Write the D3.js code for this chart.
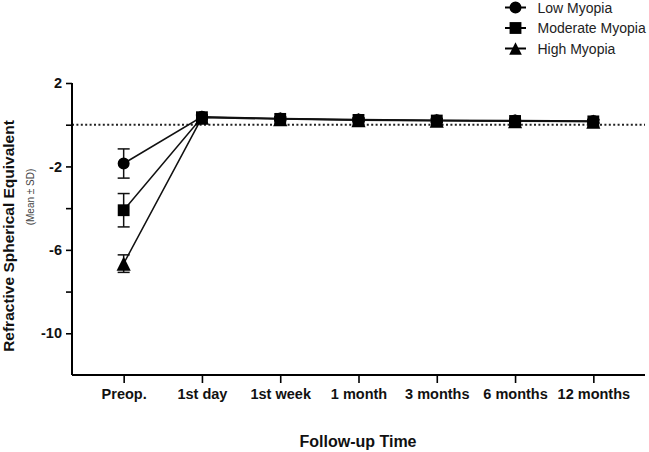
<!DOCTYPE html>
<html>
<head>
<meta charset="utf-8">
<script src="https://cdn.jsdelivr.net/npm/d3@7"></script>
<style>
  html, body { margin: 0; padding: 0; background: #fff; }
  svg { display: block; font-family: "Liberation Sans", Arial, Helvetica, sans-serif; }
</style>
</head>
<body>
<svg id="chart" width="649" height="452"></svg>
<script>
// ---- data ----
const categories = ["Preop.", "1st day", "1st week", "1 month", "3 months", "6 months", "12 months"];
const seriesNames = ["Low Myopia", "Moderate Myopia", "High Myopia"];
const lowMean      = [-1.86, 0.38, 0.30, 0.25, 0.22, 0.20, 0.18];
const lowSD        = [0.70, 0.10, 0.08, 0.08, 0.08, 0.08, 0.08];
const moderateMean = [-4.10, 0.36, 0.28, 0.23, 0.20, 0.18, 0.16];
const moderateSD   = [0.80, 0.10, 0.08, 0.08, 0.08, 0.08, 0.08];
const highMean     = [-6.66, 0.34, 0.27, 0.22, 0.19, 0.17, 0.15];
const highSD       = [0.42, 0.10, 0.08, 0.08, 0.08, 0.08, 0.08];
const yTickValues  = [2, 0, -2, -4, -6, -8, -10];
const yTickLabels  = [2, -2, -6, -10];

// triangle centred on its bounding box (as in the reference)
const boxTriangle = {
  draw(context, size) {
    const s = Math.sqrt(size);
    context.moveTo(0, -s / 2);
    context.lineTo(s / 2, s / 2);
    context.lineTo(-s / 2, s / 2);
    context.closePath();
  }
};

const series = [
  { name: seriesNames[0], mean: lowMean, sd: lowSD, symbol: d3.symbolCircle, size: 113 },
  { name: seriesNames[1], mean: moderateMean, sd: moderateSD, symbol: d3.symbolSquare, size: 140 },
  { name: seriesNames[2], mean: highMean, sd: highSD, symbol: boxTriangle, size: 200 }
];

const svg = d3.select("#chart");
const mLeft = 72, mRight = 645, mTop = 83, mBottom = 375;

const x = d3.scalePoint().domain(categories).range([mLeft, mRight]).padding(0.66);
const y = d3.scaleLinear().domain([-12, 2]).range([mBottom, mTop]);

// dotted zero line
svg.append("line")
  .attr("x1", mLeft).attr("x2", mRight)
  .attr("y1", y(0)).attr("y2", y(0))
  .attr("stroke", "#222").attr("stroke-width", 2)
  .attr("stroke-dasharray", "2,2.4");

// y axis
const yAxis = d3.axisLeft(y)
  .tickValues(yTickValues)
  .tickSize(6)
  .tickPadding(4)
  .tickFormat(d => yTickLabels.includes(d) ? String(d) : "");
const gy = svg.append("g").attr("transform", `translate(${mLeft},0)`).call(yAxis);
gy.select(".domain").attr("stroke", "#000").attr("stroke-width", 2)
  .attr("d", `M0,${mBottom}V${mTop}`);
gy.selectAll(".tick line").attr("stroke", "#000").attr("stroke-width", 1.6);
gy.selectAll(".tick text")
  .attr("fill", "#111").style("font-size", "14.5px").style("font-weight", "bold")
  .style("font-family", "'Liberation Sans', Arial, sans-serif");

// x axis
const xAxis = d3.axisBottom(x).tickSize(8).tickPadding(6);
const gx = svg.append("g").attr("transform", `translate(0,${mBottom})`).call(xAxis);
gx.select(".domain").attr("stroke", "#000").attr("stroke-width", 2)
  .attr("d", `M${mLeft},0H${mRight}`);
gx.selectAll(".tick line").attr("stroke", "#000").attr("stroke-width", 1.6);
gx.selectAll(".tick text")
  .attr("fill", "#111").style("font-size", "14.5px").style("font-weight", "bold")
  .style("font-family", "'Liberation Sans', Arial, sans-serif");

// axis titles
svg.append("text")
  .attr("transform", `translate(14,236) rotate(-90)`)
  .attr("text-anchor", "middle")
  .style("font-size", "15.5px").style("font-weight", "bold").attr("fill", "#111")
  .text("Refractive Spherical Equivalent");
svg.append("text")
  .attr("transform", `translate(33.5,197) rotate(-90)`)
  .attr("text-anchor", "middle")
  .style("font-size", "10px").attr("fill", "#444")
  .text("(Mean ± SD)");
svg.append("text")
  .attr("x", 358).attr("y", 447)
  .attr("text-anchor", "middle")
  .style("font-size", "16px").style("font-weight", "bold").attr("fill", "#111")
  .text("Follow-up Time");

// lines
const line = d3.line().x((d, i) => x(categories[i])).y(d => y(d));
series.forEach(s => {
  svg.append("path")
    .attr("d", line(s.mean))
    .attr("fill", "none").attr("stroke", "#111").attr("stroke-width", 1.5);
});

// error bars
series.forEach(s => {
  const g = svg.append("g");
  s.mean.forEach((m, i) => {
    const cx = x(categories[i]);
    const y1 = y(m + s.sd[i]), y2 = y(m - s.sd[i]);
    g.append("line").attr("x1", cx).attr("x2", cx).attr("y1", y1).attr("y2", y2)
      .attr("stroke", "#111").attr("stroke-width", 1.5);
    [y1, y2].forEach(yy => {
      g.append("line").attr("x1", cx - 6).attr("x2", cx + 6).attr("y1", yy).attr("y2", yy)
        .attr("stroke", "#111").attr("stroke-width", 1.5);
    });
  });
});

// markers
series.forEach(s => {
  svg.append("g").selectAll("path")
    .data(s.mean)
    .join("path")
    .attr("transform", (d, i) => `translate(${x(categories[i])},${y(d)})`)
    .attr("d", d3.symbol().type(s.symbol).size(s.size))
    .attr("fill", "#000");
});

// legend
const legend = svg.append("g");
series.forEach((s, i) => {
  const cy = 7.5 + i * 20.5;
  legend.append("line").attr("x1", 505).attr("x2", 526).attr("y1", cy).attr("y2", cy)
    .attr("stroke", "#000").attr("stroke-width", 2);
  legend.append("path")
    .attr("transform", `translate(515.5,${cy})`)
    .attr("d", d3.symbol().type(s.symbol).size(s === series[2] ? 160 : s.size))
    .attr("fill", "#000");
  legend.append("text").attr("x", 537.5).attr("y", cy + 5)
    .style("font-size", "14px").attr("fill", "#222")
    .text(s.name);
});
</script>
</body>
</html>
